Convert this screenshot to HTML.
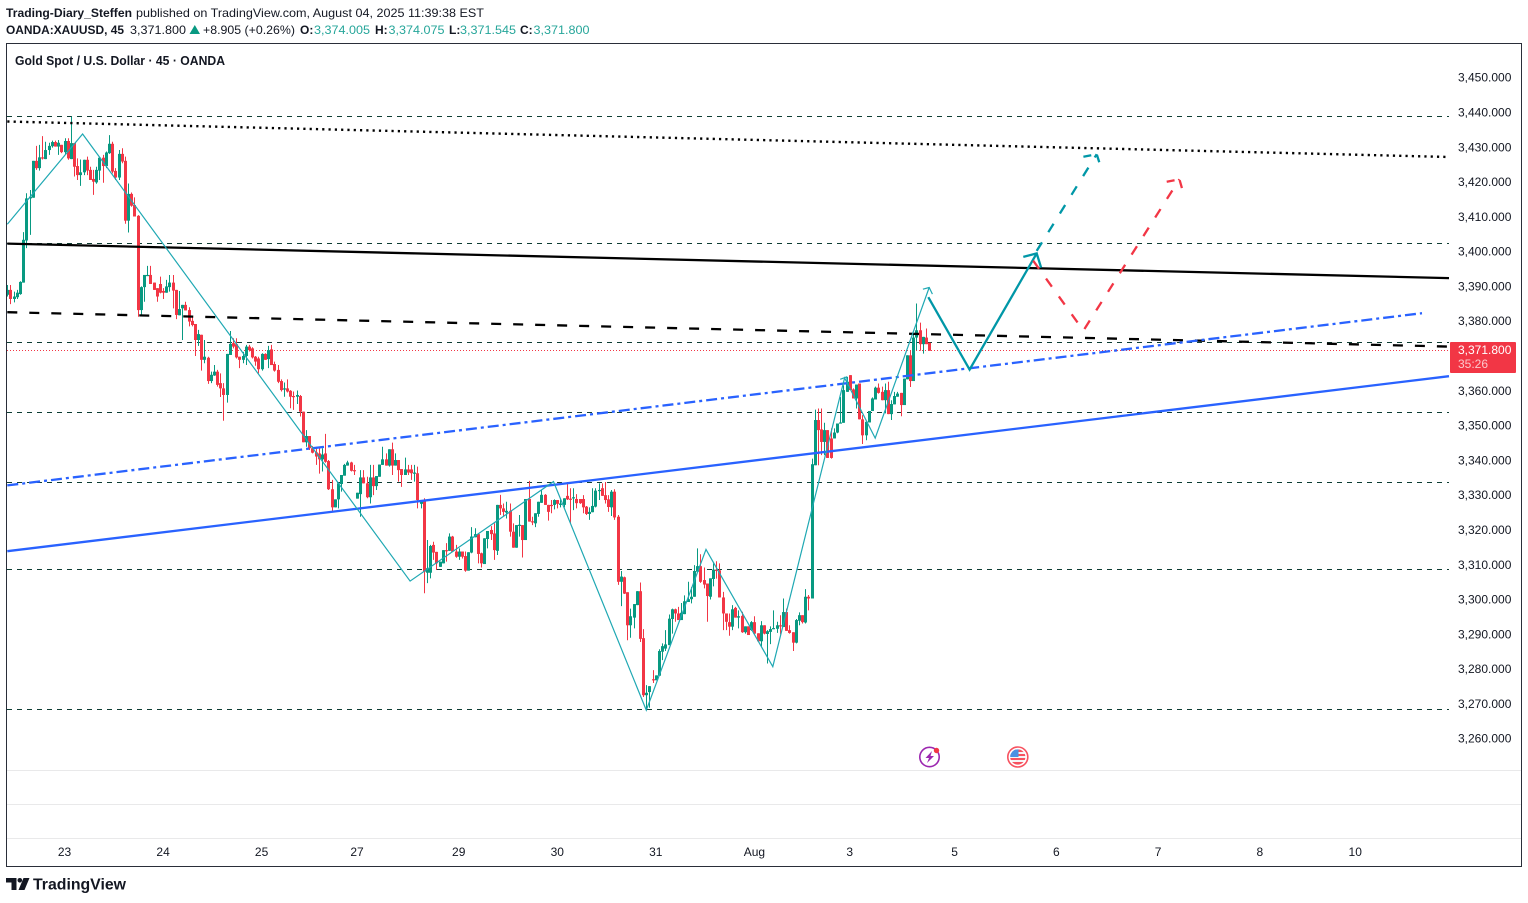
<!DOCTYPE html>
<html lang="en">
<head>
<meta charset="utf-8">
<title>Gold Spot / U.S. Dollar chart</title>
<style>
html,body{margin:0;padding:0;background:#fff;}
body{width:1528px;height:903px;overflow:hidden;}
svg{display:block;font-family:"Liberation Sans",Arial,sans-serif;}
</style>
</head>
<body>
<svg id="chart" xmlns="http://www.w3.org/2000/svg" width="1528" height="903" viewBox="0 0 1528 903">
  <rect x="0" y="0" width="1528" height="903" fill="#ffffff"/>

  <g font-size="12" fill="#131722">
    <text x="6" y="17" font-weight="700" textLength="126" lengthAdjust="spacingAndGlyphs">Trading-Diary_Steffen</text>
    <text x="136" y="17" textLength="348" lengthAdjust="spacingAndGlyphs">published on TradingView.com, August 04, 2025 11:39:38 EST</text>
  </g>
  <g font-size="12" fill="#131722">
    <text x="6" y="34" font-weight="700" textLength="118" lengthAdjust="spacingAndGlyphs">OANDA:XAUUSD, 45</text>
    <text x="130" y="34" textLength="56" lengthAdjust="spacingAndGlyphs">3,371.800</text>
    <polygon points="189.5,34 200,34 194.8,25" fill="#089981"/>
    <text x="203" y="34" textLength="92" lengthAdjust="spacingAndGlyphs">+8.905 (+0.26%)</text>
    <text x="300" y="34" font-weight="700">O:</text>
    <text x="314" y="34" fill="#26a69a" textLength="56" lengthAdjust="spacingAndGlyphs">3,374.005</text>
    <text x="375" y="34" font-weight="700">H:</text>
    <text x="388.5" y="34" fill="#26a69a" textLength="56" lengthAdjust="spacingAndGlyphs">3,374.075</text>
    <text x="449" y="34" font-weight="700">L:</text>
    <text x="460" y="34" fill="#26a69a" textLength="56" lengthAdjust="spacingAndGlyphs">3,371.545</text>
    <text x="520" y="34" font-weight="700">C:</text>
    <text x="533.5" y="34" fill="#26a69a" textLength="56" lengthAdjust="spacingAndGlyphs">3,371.800</text>
  </g>

  <g stroke="#e9e9ea" stroke-width="1">
    <line x1="7" x2="1521" y1="770.5" y2="770.5"/>
    <line x1="7" x2="1521" y1="804.5" y2="804.5"/>
    <line x1="7" x2="1521" y1="838.5" y2="838.5"/>
  </g>

  <g id="levels"></g>
  <g id="candles"></g>
  <g id="drawings"></g>
  <g id="priceAxis" font-size="12" fill="#131722"></g>
  <g id="timeAxis" font-size="12" fill="#131722"></g>

  <text x="15" y="65" font-size="12.5" font-weight="700" fill="#131722" textLength="210" lengthAdjust="spacingAndGlyphs">Gold Spot / U.S. Dollar · 45 · OANDA</text>

  <g>
    <rect x="1450" y="342" width="66" height="31" rx="1" fill="#f23645"/>
    <text x="1458" y="354" font-size="12" fill="#ffffff">3,371.800</text>
    <text x="1458" y="368" font-size="12" fill="#ffffff" fill-opacity="0.72">35:26</text>
  </g>

  <g>
    <circle cx="929.5" cy="757" r="9.7" fill="#ffffff" stroke="#9c27b0" stroke-width="1.6"/>
    <polygon points="932,751 925.5,758 929,758 927,763 934,756 930.5,756" fill="#9c27b0"/>
    <circle cx="936.5" cy="750.5" r="2.7" fill="#f23645"/>
  </g>
  <g>
    <circle cx="1017.8" cy="757" r="10" fill="#ffffff" stroke="#f7525f" stroke-width="1.6"/>
    <clipPath id="flagClip"><circle cx="1017.8" cy="757" r="7.6"/></clipPath>
    <g clip-path="url(#flagClip)">
      <rect x="1010" y="749" width="16" height="16" fill="#f5f5f5"/>
      <rect x="1010" y="749.5" width="16" height="2.5" fill="#f7525f"/>
      <rect x="1010" y="754" width="16" height="2" fill="#f7525f"/>
      <rect x="1010" y="758" width="16" height="2" fill="#f7525f"/>
      <rect x="1010" y="762" width="16" height="3" fill="#f7525f"/>
      <rect x="1010" y="749" width="8.5" height="8" fill="#4a90e2"/>
    </g>
  </g>

  <rect x="6.5" y="43.5" width="1515" height="823" fill="none" stroke="#2a2e39" stroke-width="1"/>

  <g>
    <path d="M6 878h10.500v12h-5v-7.500h-5.500z M23.500 878h6l-5 12h-6z" fill="#131722"/>
    <circle cx="19.800" cy="880.300" r="2.300" fill="#131722"/>
    <text x="33" y="889.500" font-size="15.500" font-weight="700" fill="#131722" textLength="93" lengthAdjust="spacingAndGlyphs">TradingView</text>
  </g>
</svg>

<script>
// ---- Chart data (prices) ----
const opens = [3387.4,3388.8,3386.2,3386.7,3387.6,3390.9,3403,3415.1,3415.3,3425.9,
3423.8,3426.9,3426.4,3429,3430.1,3431.3,3430,3430.5,3428.4,3431.6,
3426.4,3431,3424.4,3421.8,3422.6,3426.2,3423.3,3420.7,3419.7,3423.1,
3426.8,3424.4,3428.1,3430.8,3423,3421.1,3427.9,3425.9,3408.7,3416.4,
3413.2,3410.1,3383,3389.6,3393,3393.1,3390.9,3389.3,3390.5,3388.5,
3388,3389.6,3390.9,3388.8,3381.5,3383.5,3384.5,3383,3379.9,3379,
3374.4,3375.9,3368.7,3369.3,3362.6,3364.2,3365.3,3362,3360.5,3358.6,
3370.1,3373.5,3373.2,3369.6,3368.7,3369.8,3372.5,3372,3369.6,3369.1,
3366,3370.4,3368.9,3371.7,3367.5,3365.8,3362.6,3360.3,3360.5,3359.8,
3358.3,3358.1,3358.3,3353.8,3345,3346.8,3343.3,3342.1,3341.8,3340.1,
3341.8,3339.6,3331.5,3326.3,3328.6,3333,3335.4,3338.3,3339.2,3337,
3328.8,3330.1,3334.9,3333.2,3329.2,3334.9,3332.4,3335.1,3338.5,3340.1,
3338.3,3343,3338.3,3339.9,3337.3,3335.6,3337.2,3337.2,3336.1,3336.1,
3327.3,3328.4,3307.5,3307.5,3315.5,3313.5,3309.2,3310.2,3314,3313.8,
3317.9,3313.6,3312.1,3313.6,3312.3,3308.1,3313.3,3317.7,3318.6,3313.1,
3310,3317.2,3319.8,3318.8,3313.8,3327,3326,3324.8,3325.3,3319.3,
3314.7,3321.2,3321.2,3316.9,3328.7,3322.3,3321.7,3324.4,3327.6,3329.9,
3327,3327,3327,3328.4,3327,3327,3329.6,3328.8,3329,3328.7,
3328.7,3328.7,3326.5,3324.4,3324.9,3326.5,3331.1,3331.8,3329.8,3328.6,
3326.3,3330.8,3323.6,3304.9,3306.2,3301.9,3292.4,3294.6,3298.2,3302.2,
3288.7,3272.3,3273.2,3276.9,3276.6,3277.9,3284.8,3285.7,3286.7,3294.2,
3297,3295.8,3293.9,3295.6,3299.1,3299.9,3300.6,3307.8,3309.4,3305.4,
3304.4,3300.6,3305.7,3308.4,3308.2,3300.4,3295.8,3293.3,3292,3297.4,
3294.6,3295.1,3290.4,3292.1,3291,3293.3,3290.1,3287.8,3292.4,3289.9,
3290.5,3291.3,3291.4,3292.4,3291.9,3296.2,3291,3290.4,3287.4,3293.7,
3295.3,3293.2,3300.6,3300.1,3338.4,3351.4,3348.7,3345.1,3348.5,3346.1,
3346.1,3347.8,3350.4,3350.6,3359.5,3364.3,3360.2,3357.6,3361.9,3351.6,
3347,3350.7,3354,3357.3,3360.7,3359.5,3357.1,3360,3353.1,3355.9,
3358.1,3359.2,3355.7,3363.1,3370,3362.6,3375.1,3377.2,3373.2,3375.1,
3373.6];
const highs = [3390.2,3390.2,3388.3,3388.8,3391.3,3405.4,3416.6,3417.5,3425.9,3430.2,
3430.5,3433,3431.4,3431.1,3431.7,3431.7,3431.9,3430.5,3432.4,3432.4,
3438.6,3431,3426.6,3426.3,3426.2,3427.1,3424.2,3423.3,3424.2,3427.1,
3427.6,3428.6,3433.3,3431.4,3423.8,3429,3429.5,3427.1,3419.4,3416.8,
3415.4,3410.3,3389.8,3393.1,3395.7,3395.7,3390.9,3389.3,3392.6,3389.3,
3391.7,3393.1,3393.1,3388.8,3388.5,3384.5,3385.4,3383.8,3381.3,3379,
3377.3,3375.9,3374.4,3369.6,3365.3,3367.2,3365.8,3364.8,3362,3370.4,
3377,3374.9,3374.9,3369.6,3371,3373,3373,3372.3,3369.8,3369.6,
3370.6,3370.6,3372.7,3373,3368.2,3367.2,3363.1,3362.2,3363.1,3360,
3359.6,3359.9,3358.6,3353.8,3348.5,3346.8,3343.9,3343.7,3343.3,3343.3,
3347.4,3339.9,3334.2,3328.6,3333.4,3335.6,3338.8,3339.7,3339.4,3338.5,
3330.5,3337,3337,3335.1,3338.5,3338.5,3335.3,3338.6,3343.7,3341.8,
3343,3344.9,3341.8,3339.9,3337.3,3340.6,3338.5,3338.5,3338.5,3338,
3328.4,3328.9,3316.9,3315.5,3316.4,3313.5,3310.7,3314,3316,3318.8,
3318.1,3315.5,3314.5,3313.6,3313.6,3313.4,3320.6,3320.3,3318.8,3313.3,
3317.4,3319.5,3320.9,3321.7,3327,3329.9,3327.4,3327.9,3327.4,3321.7,
3321.2,3324.1,3321.2,3328.7,3333.9,3323.6,3324.6,3327.9,3331.3,3330.1,
3327,3328.4,3328.6,3328.4,3328.9,3328.9,3333.2,3331.8,3331.8,3330.1,
3328.7,3329.8,3326.7,3326.3,3331.8,3331.8,3333.2,3333.2,3333.6,3329.8,
3331.3,3331.5,3324.1,3308,3306.4,3301.9,3297.2,3298.5,3302.2,3304.7,
3291.3,3275.2,3274.9,3279.5,3278,3285.5,3287.2,3291,3295.5,3297.2,
3297.2,3297.7,3298.8,3301,3304.9,3303.4,3309.7,3314.5,3312.8,3309,
3304.4,3305.9,3310.2,3310.8,3310.2,3302,3295.8,3295.8,3298.2,3297.7,
3296.7,3296.3,3292.1,3292.1,3293.6,3295,3290.1,3293.6,3292.4,3291,
3292.1,3296.7,3293.4,3295.3,3300.1,3297.2,3292.4,3290.4,3294.2,3296.1,
3295.3,3302.8,3301.1,3340.3,3354.4,3354.7,3354.7,3350.6,3348.5,3349,
3349,3350.4,3358,3361.4,3363.8,3364.3,3360.5,3361.6,3361.9,3352.8,
3350.9,3354,3357.9,3361,3361.9,3361,3361.9,3362.4,3357.1,3359.5,
3359.5,3359.2,3363.3,3370,3371.5,3376,3384.9,3379.4,3375.3,3377.7,
3373.6];
const lows = [3386.9,3384.7,3385.2,3386.2,3387.4,3390.9,3400.8,3404.6,3415.3,3423.3,
3423.1,3426.3,3426.4,3427.6,3429.7,3430,3427.6,3428.1,3427.6,3426.2,
3426.4,3421.4,3420.4,3418.7,3421.8,3421.8,3420.4,3416.1,3419.3,3420.4,
3419.6,3423.8,3427.9,3422.3,3420.4,3420.4,3425.2,3407.8,3405.3,3412.7,
3409.9,3381.1,3381.6,3385.4,3393,3390.5,3388.8,3385.4,3387.8,3386.2,
3388,3388.3,3383.5,3380.4,3381.5,3374.4,3382.9,3378.3,3378.3,3369.8,
3372.7,3365.6,3367.7,3361.8,3362,3364.1,3361,3358,3351.2,3356.4,
3370.1,3372,3369.1,3366.3,3367.7,3367.2,3371.1,3369.1,3367,3364.8,
3365.6,3368.7,3366.3,3367.2,3365.3,3362,3359.6,3358.1,3359.3,3354.8,
3354.3,3356,3352.4,3345,3343.7,3342.8,3341.8,3338.5,3336,3336.6,
3339.1,3331.3,3324.8,3326.3,3326,3330.8,3335.4,3338.3,3336.6,3335.6,
3328.8,3323.6,3333.2,3328.9,3327.4,3329.8,3331.3,3335.1,3338.5,3338.3,
3338,3335.6,3338.3,3333.7,3332.2,3335.6,3335.6,3334.2,3333.7,3326,
3326,3301.6,3304.5,3305.9,3311.2,3308.3,3309.2,3310.2,3310.7,3313.8,
3313.6,3311.8,3311.2,3311.6,3307.8,3308.1,3313.1,3317.7,3310.2,3309,
3310,3314.5,3316.9,3311.2,3312.6,3324.1,3323.6,3323.1,3317.9,3314.7,
3314.7,3317.9,3311.9,3316.9,3322.2,3321.2,3320.6,3323.6,3327.6,3327,
3322.5,3324.6,3325.7,3326,3326.3,3326.3,3328.4,3321.7,3325.5,3326,
3327.3,3324.6,3324.1,3322.7,3324.9,3326.3,3328.4,3329.6,3327.4,3325,
3323.8,3322.7,3304,3297.9,3301.4,3288.1,3288.8,3291.5,3298.2,3287.6,
3271.8,3268,3268.7,3275.8,3276.6,3277.9,3282.4,3285,3286.7,3290,
3293.4,3293.9,3293.9,3295.6,3299.1,3298.7,3300.6,3307.8,3304.6,3303,
3293.4,3299.8,3303.6,3305.8,3300.4,3291,3291,3289.4,3291,3294.6,
3291.5,3290.2,3290,3289.6,3290.8,3289.8,3287.6,3286.2,3289.8,3281.4,
3287,3291.3,3290.2,3289.8,3291.9,3290.8,3290,3285,3287.2,3292.4,
3292.9,3292.9,3296.7,3300.1,3338.4,3338.4,3341.3,3341.3,3340.5,3340.3,
3346.1,3347.6,3350.4,3350.6,3359.5,3360,3357.6,3354.7,3351.6,3344.5,
3345.6,3350.7,3354,3357.3,3359,3357.1,3353.3,3353.1,3351.4,3355.9,
3358.1,3352.5,3355.7,3363.1,3360.9,3362.6,3371.5,3371.3,3370.5,3373.2,
3371.3];
const closes = [3388.8,3386.2,3386.9,3388,3391.1,3403.2,3415.1,3415.6,3425.9,3423.8,
3426.9,3426.7,3429,3430.2,3431.3,3430,3431.1,3428.4,3431.6,3426.6,
3431,3424.2,3421.8,3422.6,3426.2,3423.1,3420.4,3419.9,3423.3,3426.8,
3424.4,3428.3,3430.8,3422.8,3421.1,3427.9,3425.7,3408.7,3416.4,3413,
3409.9,3383,3389.6,3393.1,3393.1,3390.5,3388.8,3386.9,3388,3388,
3389.8,3390.9,3388.6,3381.6,3383.3,3384.5,3382.9,3379.7,3378.7,3374.4,
3376.1,3368.7,3369.6,3362.6,3364.4,3365.3,3361.5,3360.5,3358.6,3370.4,
3373.3,3372.5,3369.4,3368.7,3369.8,3372.5,3371.5,3369.4,3368.2,3366,
3370.4,3368.7,3371.5,3367.2,3365.6,3362.4,3360,3360.5,3359.6,3358.1,
3358.1,3358.6,3353.8,3345,3346.8,3343.3,3342,3340.9,3340.1,3341.5,
3339.4,3331.5,3326.3,3328.6,3333.2,3335.6,3338.5,3339.2,3336.8,3336.8,
3330.5,3334.9,3333.2,3329.2,3334.9,3332.4,3335.3,3338.6,3340.1,3338.3,
3343,3338.3,3339.9,3337,3335.6,3337.2,3336.3,3336.1,3336.3,3328.4,
3328.4,3307.8,3308.8,3315.2,3313.3,3310.2,3310.7,3314,3313.8,3317.9,
3313.6,3312.1,3313.6,3312.1,3308.1,3313.4,3317.9,3318.6,3312.9,3310.2,
3317.4,3319.5,3318.6,3314,3327,3326,3325,3325.3,3319.3,3314.7,
3321.2,3321.3,3316.9,3328.7,3322.2,3322.2,3324.6,3327.9,3329.9,3327,
3325,3326.7,3328.4,3327.3,3327.4,3328.9,3328.6,3328.6,3329.2,3327.5,
3327.5,3326.3,3324.4,3325,3326.7,3331.1,3331.3,3329.6,3328.4,3326.4,
3330.8,3323.4,3304.9,3306.4,3301.5,3292.4,3295,3298.5,3302.2,3288.5,
3272.3,3273,3274.9,3276.7,3278,3285,3286.4,3286.9,3294.3,3297,
3295.8,3293.9,3296,3299.3,3299.9,3300.6,3308,3309.4,3304.9,3304.1,
3300.8,3305.9,3308.4,3308,3300.4,3295.8,3293.4,3292,3297,3294.6,
3295,3290.4,3292.1,3289.6,3293.3,3290,3287.8,3292.4,3290,3290.7,
3291.3,3291.6,3292.4,3292.2,3296.2,3290.8,3290.2,3287.4,3293.9,3295.3,
3293.3,3300.6,3300.1,3338.7,3351.4,3348.5,3345.1,3348.5,3340.5,3340.5,
3347.8,3350.4,3350.7,3360,3362.4,3360,3357.6,3361.6,3351.6,3347,
3350.9,3354,3357.6,3360.7,3359.2,3357.1,3360,3353.1,3356,3358.3,
3359,3355.7,3363.3,3370,3362.6,3375.1,3377.2,3373.2,3375.3,3373.2,
3371.3];

const priceTicks = [3450,3440,3430,3420,3410,3400,3390,3380,3360,3350,3340,3330,3320,3310,3300,3290,3280,3270,3260];
const dayLabels = ["23","24","25","27","29","30","31","Aug","3","5","6","7","8","10"];
const dayBars = [18,49,80,110,142,173,204,235,265,298,330,362,394,424];
const levelPrices = [3438.7,3402.2,3373.7,3353.6,3333.5,3308.5,3268.2];
const lastPrice = 3371.5;

// Drawings: bar index + price per vertex
const blackSolidBars = [0,453.5];
const blackSolidPrices = [3402.1,3392.2];
const blackDashedBars = [0,453.5];
const blackDashedPrices = [3382.4,3372.5];
const blackDottedBars = [0,453.5];
const blackDottedPrices = [3437.2,3427];
const blueSolidBars = [0,453.5];
const blueSolidPrices = [3313.7,3364];
const blueDashDotBars = [0,445];
const blueDashDotPrices = [3332.6,3382.1];
const zigzagBars = [0,23.7,126.7,171.8,201,219.8,240.8,263.4,273,290];
const zigzagPrices = [3407.7,3433.6,3305.1,3333.7,3268,3314.2,3280.5,3363.5,3346.2,3389.5];
const zigHeadABars = [262,264,264.5];
const zigHeadAPrices = [3363.1,3363.8,3361.2];
const zigHeadBBars = [288,290,291];
const zigHeadBPrices = [3389,3389.5,3387.6];
const tealPathBars = [289.7,302.7,323.8];
const tealPathPrices = [3386.7,3365.9,3399.3];
const tealHeadBars = [319.6,323.8,325.2];
const tealHeadPrices = [3398.3,3399.3,3395.2];
const tealDashBars = [323.8,342.7];
const tealDashPrices = [3400,3427.8];
const tealDashHeadBars = [338.5,342.7,344];
const tealDashHeadPrices = [3427.1,3427.8,3424];
const redDashBars = [322.7,338.5,368.7];
const redDashPrices = [3397.2,3377.1,3420.6];
const redDashHeadBars = [364.7,368.7,369.9];
const redDashHeadPrices = [3419.9,3420.6,3416.8];

// ---- Axis functions ----
function xOf(bar){ return 7.3 + bar * 3.179; }
function yOf(price){ return 738 - (price - 3260) * 3.479; }

const NS = "http://www.w3.org/2000/svg";
function make(tag, attrs, parent){
  const el = document.createElementNS(NS, tag);
  for (const k in attrs) el.setAttribute(k, attrs[k]);
  parent.appendChild(el);
  return el;
}

// Horizontal levels
const levelGroup = document.getElementById("levels");
levelPrices.forEach(function(p){
  const y = Math.round(yOf(p) - 0.5) + 0.5;
  const ln = make("line", {x1:7, x2:1449, y1:y, y2:y, stroke:"#0f3d33", "stroke-width":1.1, "stroke-dasharray":"5 5"}, levelGroup);
  
  
});
const lastY = Math.round(yOf(lastPrice) - 0.5) + 0.5;
const lastLine = make("line", {x1:7, x2:1450, y1:lastY, y2:lastY, stroke:"#f23645", "stroke-width":1, "stroke-dasharray":"1 2"}, levelGroup);



// Candles
const candleGroup = document.getElementById("candles");
closes.forEach(function(c, i){
  const o = opens[i], h = highs[i], l = lows[i];
  const col = c >= o ? "#089981" : "#f23645";
  const cx = xOf(i);
  const g = make("g", {}, candleGroup);
  
  
  const wx = Math.round(cx) + 0.5;
  const wick = make("line", {x1:wx, x2:wx, y1:yOf(h), y2:yOf(l), stroke:col, "stroke-width":1}, g);
  
  
  const top = yOf(Math.max(o, c));
  const bot = yOf(Math.min(o, c));
  const body = make("rect", {x:wx - 1.5, y:top, width:3, height:Math.max(bot - top, 1.2), fill:col}, g);
  
  
});

// Drawings
const drawGroup = document.getElementById("drawings");
function drawPath(bars, prices, stroke, width, dash){
  const pts = bars.map(function(b, i){ return xOf(b).toFixed(1) + "," + yOf(prices[i]).toFixed(1); }).join(" ");
  const attrs = {points:pts, fill:"none", stroke:stroke, "stroke-width":width, "stroke-linejoin":"miter"};
  if (dash) attrs["stroke-dasharray"] = dash;
  return make("polyline", attrs, drawGroup);
}
let d;
d = drawPath(blackSolidBars, blackSolidPrices, "#000000", 2.3);


d = drawPath(blackDashedBars, blackDashedPrices, "#000000", 2.3, "10 12");


d = drawPath(blackDottedBars, blackDottedPrices, "#000000", 2.4, "2.2 4.1");


d = drawPath(blueSolidBars, blueSolidPrices, "#2962ff", 2.3);


d = drawPath(blueDashDotBars, blueDashDotPrices, "#2962ff", 2.3, "11 4 3 4");


d = drawPath(zigzagBars, zigzagPrices, "#1fa8b3", 1.2);


d = drawPath(zigHeadABars, zigHeadAPrices, "#1fa8b3", 1.2);


d = drawPath(zigHeadBBars, zigHeadBPrices, "#1fa8b3", 1.2);


d = drawPath(tealPathBars, tealPathPrices, "#0097a7", 2.3);


d = drawPath(tealHeadBars, tealHeadPrices, "#0097a7", 2.3);


d = drawPath(tealDashBars, tealDashPrices, "#0097a7", 2.3, "10 12");


d = drawPath(tealDashHeadBars, tealDashHeadPrices, "#0097a7", 2.3, "8 6");


d = drawPath(redDashBars, redDashPrices, "#f23645", 2.3, "10 12");


d = drawPath(redDashHeadBars, redDashHeadPrices, "#f23645", 2.3, "8 6");



// Price axis
const priceAxis = document.getElementById("priceAxis");
priceTicks.forEach(function(p){
  const t = make("text", {x:1458, y:(yOf(p) + 4.7).toFixed(1)}, priceAxis);
  
  
  t.textContent = p.toLocaleString("en-US", {minimumFractionDigits:3, maximumFractionDigits:3});
});

// Time axis
const timeAxis = document.getElementById("timeAxis");
dayLabels.forEach(function(label, i){
  const t = make("text", {x:xOf(dayBars[i]).toFixed(1), y:856, "text-anchor":"middle"}, timeAxis);
  
  
  t.textContent = label;
});
</script>
</body>
</html>
